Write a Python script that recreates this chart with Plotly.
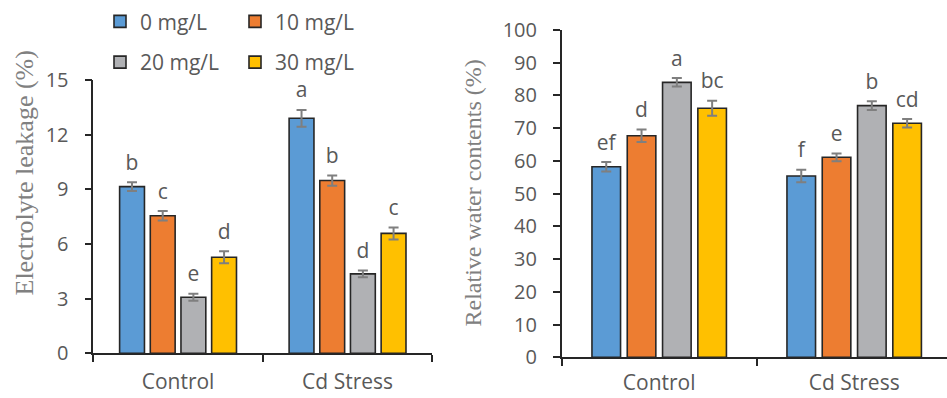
import plotly.graph_objects as go

categories = ["Control", "Cd Stress"]
series_names = ["0 mg/L", "10 mg/L", "20 mg/L", "30 mg/L"]
colors = ["#5B9BD5", "#ED7D31", "#B0B1B4", "#FFC000"]

# Electrolyte leakage (%)
el_values = [[9.15, 12.9], [7.55, 9.48], [3.08, 4.36], [5.27, 6.58]]
el_errors = [[0.24, 0.46], [0.26, 0.28], [0.19, 0.19], [0.33, 0.33]]
el_letters = [["b", "a"], ["c", "b"], ["e", "d"], ["d", "c"]]

# Relative water contents (%)
rwc_values = [[58.2, 55.4], [67.7, 61.1], [84.0, 76.9], [76.1, 71.5]]
rwc_errors = [[1.45, 1.9], [1.9, 1.2], [1.3, 1.35], [2.3, 1.3]]
rwc_letters = [["ef", "f"], ["d", "e"], ["a", "b"], ["bc", "cd"]]

el_ticks = [0, 3, 6, 9, 12, 15]
rwc_ticks = [0, 10, 20, 30, 40, 50, 60, 70, 80, 90, 100]

W, H = 947, 398
TXT = "#595959"
AX = "#262626"
FONT = "Open Sans"

fig = go.Figure()

for i, name in enumerate(series_names):
    leg = "legend" if i < 2 else "legend2"
    fig.add_trace(go.Bar(
        x=categories, y=el_values[i], name=name, xaxis="x", yaxis="y",
        marker=dict(color=colors[i], line=dict(color=AX, width=1.6)),
        error_y=dict(type="data", array=el_errors[i], color="#7F7F7F", thickness=2, width=5),
        legend=leg, showlegend=True, offsetgroup=str(i),
    ))
for i, name in enumerate(series_names):
    fig.add_trace(go.Bar(
        x=categories, y=rwc_values[i], name=name, xaxis="x2", yaxis="y2",
        marker=dict(color=colors[i], line=dict(color=AX, width=1.6)),
        error_y=dict(type="data", array=rwc_errors[i], color="#7F7F7F", thickness=2, width=5),
        showlegend=False, offsetgroup=str(i),
    ))

# significance letters
for i, name in enumerate(series_names):
    fig.add_trace(go.Scatter(
        x=categories, y=[v + e for v, e in zip(el_values[i], el_errors[i])],
        mode="markers+text", text=el_letters[i], textposition="top center",
        textfont=dict(family=FONT, size=21, color=TXT),
        marker=dict(size=10, color="rgba(0,0,0,0)"),
        xaxis="x", yaxis="y", showlegend=False, hoverinfo="skip", offsetgroup=str(i),
    ))
for i, name in enumerate(series_names):
    fig.add_trace(go.Scatter(
        x=categories, y=[v + e for v, e in zip(rwc_values[i], rwc_errors[i])],
        mode="markers+text", text=rwc_letters[i], textposition="top center",
        textfont=dict(family=FONT, size=21, color=TXT),
        marker=dict(size=10, color="rgba(0,0,0,0)"),
        xaxis="x2", yaxis="y2", showlegend=False, hoverinfo="skip", offsetgroup=str(i),
    ))

def px_x(p):
    return p / W

def px_y(p):
    return 1 - p / H

xcommon = dict(
    type="category", showline=True, linecolor=AX, linewidth=1.5,
    ticks="outside", tickson="boundaries", ticklen=7, tickcolor=AX, tickwidth=1.5,
    tickfont=dict(family=FONT, size=21, color=TXT),
    showgrid=False, zeroline=False, automargin=False,
)
ycommon = dict(
    showline=True, linecolor=AX, linewidth=1.5, ticks="outside", ticklen=7,
    tickcolor=AX, tickwidth=1.5, tickfont=dict(family=FONT, size=20, color=TXT),
    showgrid=False, zeroline=False, automargin=False, ticklabelstandoff=12,
)

fig.update_layout(
    width=W, height=H, margin=dict(l=0, r=0, t=0, b=0),
    paper_bgcolor="white", plot_bgcolor="white",
    barmode="group", bargap=0.276, bargroupgap=0.19,
    scattermode="group", scattergap=0.276,
    xaxis=dict(**xcommon, domain=[px_x(93.3), px_x(432.3)], range=[-0.5, 1.5], anchor="y",
               ticklabelstandoff=9),
    yaxis=dict(**ycommon, domain=[px_y(353.3), px_y(80)], range=[0, 15],
               tickvals=el_ticks, anchor="x"),
    xaxis2=dict(**xcommon, domain=[px_x(561.7), 1.0], range=[-0.5, 1.476], anchor="y2",
                ticklabelstandoff=6),
    yaxis2=dict(**ycommon, domain=[px_y(357.3), px_y(30)], range=[0, 100],
                tickvals=rwc_ticks, anchor="x2"),
    legend=dict(orientation="h", x=px_x(100), y=px_y(21.7), xanchor="left", yanchor="middle",
                font=dict(family=FONT, size=21, color=TXT), entrywidth=90,
                entrywidthmode="pixels", bgcolor="rgba(0,0,0,0)", itemclick=False),
    legend2=dict(orientation="h", x=px_x(100), y=px_y(62.5), xanchor="left", yanchor="middle",
                 font=dict(family=FONT, size=21, color=TXT), entrywidth=90,
                 entrywidthmode="pixels", bgcolor="rgba(0,0,0,0)", itemclick=False),
    annotations=[
        dict(text="Electrolyte leakage (%)", textangle=-90, xref="paper", yref="paper",
             x=px_x(24), y=px_y(173.5), showarrow=False, xanchor="center", yanchor="middle",
             font=dict(family="Liberation Serif", size=26, color="#808080")),
        dict(text="Relative water contents (%)", textangle=-90, xref="paper", yref="paper",
             x=px_x(472), y=px_y(193.5), showarrow=False, xanchor="center", yanchor="middle",
             font=dict(family="Liberation Serif", size=24, color="#808080")),
    ],
)

fig.write_html("out.html")
